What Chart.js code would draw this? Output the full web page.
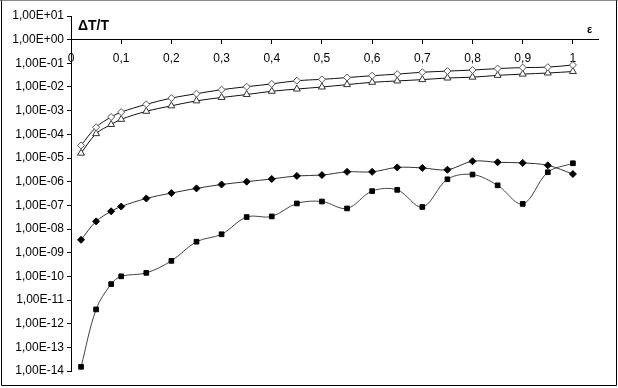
<!DOCTYPE html>
<html>
<head>
<meta charset="utf-8">
<script src="https://cdn.jsdelivr.net/npm/chart.js@4"></script>
<style>
html,body{margin:0;padding:0;background:#fff;}
#wrap{width:618px;height:388px;position:relative;}
</style>
</head>
<body>
<div id="wrap"><canvas id="c" width="618" height="388"></canvas></div>
<script>
// ---- data ----
const epsValues = [0.02, 0.05, 0.08, 0.1, 0.15, 0.2, 0.25, 0.3, 0.35, 0.4, 0.45, 0.5, 0.55, 0.6, 0.65, 0.7, 0.75, 0.8, 0.85, 0.9, 0.95, 1.0];
const openDiamond = [3.4e-5, 2.0e-4, 5.4e-4, 8.7e-4, 1.85e-3, 3.4e-3, 5.2e-3, 7.7e-3, 1.03e-2, 1.35e-2, 1.85e-2, 2.1e-2, 2.5e-2, 3.0e-2, 3.5e-2, 4.2e-2, 4.7e-2, 5.2e-2, 6.0e-2, 6.6e-2, 6.9e-2, 8.5e-2];
const openTriangle = [1.6e-5, 1.07e-4, 2.6e-4, 4.3e-4, 9.4e-4, 1.6e-3, 2.6e-3, 3.6e-3, 4.8e-3, 6.6e-3, 8.2e-3, 1.0e-2, 1.26e-2, 1.58e-2, 1.8e-2, 2.05e-2, 2.4e-2, 2.6e-2, 3.1e-2, 3.5e-2, 3.9e-2, 4.5e-2];
const filledDiamond = [3.5e-9, 2.1e-8, 5.6e-8, 8.9e-8, 1.95e-7, 3.3e-7, 5.2e-7, 7.6e-7, 1.0e-6, 1.3e-6, 1.75e-6, 1.9e-6, 2.6e-6, 2.6e-6, 4.0e-6, 3.8e-6, 3.2e-6, 7.3e-6, 6.6e-6, 6.2e-6, 4.9e-6, 2.1e-6];
const filledSquare = [1.5e-14, 4.0e-12, 4.7e-11, 1.0e-10, 1.4e-10, 4.5e-10, 2.9e-9, 6.0e-9, 3.2e-8, 3.4e-8, 1.2e-7, 1.45e-7, 7.4e-8, 4.0e-7, 4.5e-7, 8.5e-8, 1.26e-6, 2.0e-6, 7.0e-7, 1.15e-7, 2.5e-6, 6.0e-6];

const xTickValues = [0, 0.1, 0.2, 0.3, 0.4, 0.5, 0.6, 0.7, 0.8, 0.9, 1];
const xTickLabels = ['0', '0,1', '0,2', '0,3', '0,4', '0,5', '0,6', '0,7', '0,8', '0,9', '1'];
const yTickValues = [1e1, 1e0, 1e-1, 1e-2, 1e-3, 1e-4, 1e-5, 1e-6, 1e-7, 1e-8, 1e-9, 1e-10, 1e-11, 1e-12, 1e-13, 1e-14];
const yTickLabels = ['1,00E+01', '1,00E+00', '1,00E-01', '1,00E-02', '1,00E-03', '1,00E-04', '1,00E-05', '1,00E-06', '1,00E-07', '1,00E-08', '1,00E-09', '1,00E-10', '1,00E-11', '1,00E-12', '1,00E-13', '1,00E-14'];
const yAxisTitle = 'ΔT/T';
const xAxisTitle = 'ε';

function pts(arr) { return epsValues.map((x, i) => ({ x: x, y: arr[i] })); }

const FONT = 'Liberation Sans, Arial, sans-serif';

const framePlugin = {
  id: 'frame',
  afterDraw(chart) {
    const ctx = chart.ctx;
    ctx.save();
    ctx.lineWidth = 1;
    ctx.strokeStyle = '#8a8a8a';
    ctx.beginPath(); ctx.moveTo(0, 0.5); ctx.lineTo(618, 0.5); ctx.stroke();
    ctx.strokeStyle = '#000';
    ctx.beginPath();
    ctx.moveTo(1.5, 0.5); ctx.lineTo(1.5, 385.5);
    ctx.lineTo(616.5, 385.5); ctx.lineTo(616.5, 0.5);
    ctx.stroke();
    // axis titles
    ctx.fillStyle = '#000';
    ctx.textBaseline = 'alphabetic';
    ctx.textAlign = 'left';
    ctx.font = 'bold 14px ' + FONT;
    ctx.fillText(yAxisTitle, 78, 30);
    ctx.font = 'bold 11px ' + FONT;
    ctx.fillText(xAxisTitle, 587, 33);
    ctx.restore();
  }
};

const common = { showLine: true, tension: 0.35, borderWidth: 1, fill: false };

new Chart(document.getElementById('c'), {
  type: 'scatter',
  data: {
    datasets: [
      Object.assign({ data: pts(openDiamond), borderColor: '#111', pointStyle: 'rectRot', pointRadius: 3.5, pointBackgroundColor: '#fff', pointBorderColor: '#555', pointBorderWidth: 1 }, common),
      Object.assign({ data: pts(openTriangle), borderColor: '#111', pointStyle: 'triangle', pointRadius: 4, pointBackgroundColor: '#fff', pointBorderColor: '#333', pointBorderWidth: 1 }, common),
      Object.assign({ data: pts(filledDiamond), borderColor: '#333', pointStyle: 'rectRot', pointRadius: 3.5, pointBackgroundColor: '#000', pointBorderColor: '#000', pointBorderWidth: 1 }, common),
      Object.assign({ data: pts(filledSquare), borderColor: '#444', pointStyle: 'rect', pointRadius: 3.3, pointBackgroundColor: '#000', pointBorderColor: '#000', pointBorderWidth: 1 }, common)
    ]
  },
  options: {
    responsive: false,
    animation: false,
    devicePixelRatio: 1,
    layout: { padding: { left: 0, top: 16, right: 20, bottom: 17 } },
    plugins: { legend: { display: false }, tooltip: { enabled: false } },
    scales: {
      x: {
        type: 'linear', axis: 'x',
        position: { y: 1 },
        min: 0, max: 1.05,
        afterBuildTicks(scale) { scale.ticks = xTickValues.map(v => ({ value: v })); },
        ticks: {
          autoSkip: false, maxRotation: 0, padding: 8, color: '#000',
          font: { family: FONT, size: 12 },
          callback: (v, i) => xTickLabels[i]
        },
        grid: { drawOnChartArea: false, drawTicks: true, tickLength: 4, color: '#000' },
        border: { display: true, color: '#000', width: 1 }
      },
      y: {
        type: 'logarithmic', position: 'left',
        min: 1e-14, max: 10,
        afterBuildTicks(scale) { scale.ticks = yTickValues.map(v => ({ value: v })); },
        afterFit(scale) { scale.width = 71; },
        ticks: {
          autoSkip: false, padding: 3, color: '#000',
          font: { family: FONT, size: 12 },
          callback: (v, i) => yTickLabels[i]
        },
        grid: { drawOnChartArea: false, drawTicks: true, tickLength: 4, color: '#000' },
        border: { display: true, color: '#000', width: 1 }
      }
    }
  },
  plugins: [framePlugin]
});
</script>
</body>
</html>
